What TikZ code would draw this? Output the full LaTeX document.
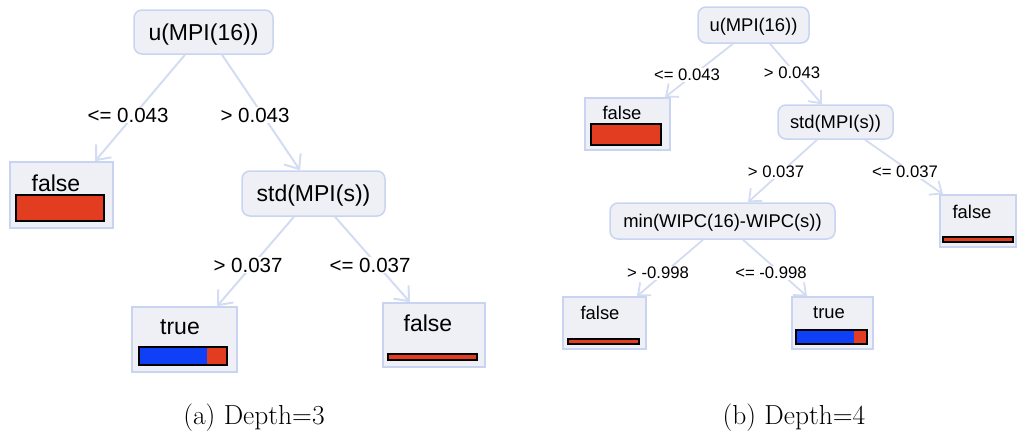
\documentclass[tikz,border=0pt]{standalone}
\usepackage{fontspec}
\newfontfamily\treefont{Liberation Sans}
\usetikzlibrary{arrows.meta}
\definecolor{edgeblue}{HTML}{D3DCF2}
\definecolor{nodefill}{HTML}{EEF0F6}
\definecolor{nodeline}{HTML}{C8D4F1}
\definecolor{barred}{HTML}{E33D21}
\definecolor{barblue}{HTML}{1040F5}
\begin{document}
\begin{tikzpicture}[x=1pt,y=-1pt,
  split/.style={draw=nodeline, fill=nodefill, line width=1.5pt, rounded corners=8pt,
    inner sep=0pt, text depth=0pt},
  leafbox/.style={draw=nodeline, fill=nodefill, line width=1.5pt, inner sep=0pt},
  bigfont/.style={font=\treefont\fontsize{23}{26}\selectfont},
  smallfont/.style={font=\treefont\fontsize{18.4}{21}\selectfont},
  biglabel/.style={fill=white, inner sep=1pt, font=\treefont\fontsize{20.5}{24}\selectfont},
  smalllabel/.style={fill=white, inner sep=1pt, font=\treefont\fontsize{16.7}{20}\selectfont},
  edge/.style={draw=edgeblue, line width=2pt,
    -{Straight Barb[length=12pt, width=20pt, line width=2pt]}},
  smalledge/.style={draw=edgeblue, line width=1.8pt,
    -{Straight Barb[length=10pt, width=17pt, line width=1.8pt]}},
  bar/.style={draw=black, line width=1.3pt},
  caption/.style={font=\fontsize{27.5}{31}\selectfont}
]
\useasboundingbox (0,0) rectangle (1018,434);

% ---------- (a) depth 3 ----------
\node[split, bigfont, minimum width=139pt, minimum height=44pt] (rA) at (203.5,32) {u(MPI(16))};
\node[leafbox, minimum width=103pt, minimum height=66pt] (fA1) at (61.5,195) {};
\node[split, bigfont, minimum width=143pt, minimum height=45pt] (sA) at (313.5,193.5) {std(MPI(s))};
\node[leafbox, minimum width=105pt, minimum height=65pt] (tA) at (184.5,339.5) {};
\node[leafbox, minimum width=102pt, minimum height=64pt] (fA2) at (434,335) {};

\node[bigfont] (fA1t) at (56,183) {false};
\draw[bar, fill=barred] (16,195) rectangle (104,221);

\node[bigfont] (tAt) at (180,327) {true};
\fill[barblue] (139,347) rectangle (207,365);
\fill[barred] (207,347) rectangle (227,365);
\draw[bar] (139,347) rectangle (227,365);

\node[bigfont] (fA2t) at (428,323) {false};
\draw[bar, fill=barred] (388,354) rectangle (477,360);

\draw[edge] ([xshift=-18.5pt]rA.south) -- ([xshift=33.5pt]fA1.north);
\draw[edge] ([xshift=18.5pt]rA.south) -- ([xshift=-13.5pt]sA.north);
\draw[edge] ([xshift=-19.5pt]sA.south) -- ([xshift=32.5pt]tA.north);
\draw[edge] ([xshift=21.5pt]sA.south) -- ([xshift=-24pt]fA2.north);

\node[biglabel] (lA1) at (128,115) {<= 0.043};
\node[biglabel] (lA2) at (255,115) {> 0.043};
\node[biglabel] (lA3) at (248,265) {> 0.037};
\node[biglabel] (lA4) at (370,265) {<= 0.037};

\node[caption] (capA) at (254,418) {(a) Depth=3};

% ---------- (b) depth 4 ----------
\node[split, smallfont, minimum width=111pt, minimum height=36pt] (rB) at (753.5,25) {u(MPI(16))};
\node[leafbox, minimum width=85pt, minimum height=52pt] (fB1) at (627.5,124) {};
\node[split, smallfont, minimum width=115pt, minimum height=34pt] (sB) at (835.5,122) {std(MPI(s))};
\node[split, smallfont, minimum width=225pt, minimum height=36pt] (mB) at (722.5,221) {min(WIPC(16)-WIPC(s))};
\node[leafbox, minimum width=76pt, minimum height=52pt] (fB2) at (978,221) {};
\node[leafbox, minimum width=83pt, minimum height=52pt] (fB3) at (604.5,323) {};
\node[leafbox, minimum width=81pt, minimum height=52pt] (tB) at (832.5,323) {};

\node[smallfont] (fB1t) at (622,113) {false};
\draw[bar, fill=barred] (591,124) rectangle (661,145);

\node[smallfont] (fB2t) at (972,212) {false};
\draw[bar, fill=barred] (943,237) rectangle (1013,242);

\node[smallfont] (fB3t) at (600,313) {false};
\draw[bar, fill=barred] (568,339) rectangle (639,344);

\node[smallfont] (tBt) at (829,313) {true};
\fill[barblue] (796,330) rectangle (854,344);
\fill[barred] (854,330) rectangle (867,344);
\draw[bar] (796,330) rectangle (867,344);

\draw[smalledge] ([xshift=-20.5pt]rB.south) -- ([xshift=37.5pt]fB1.north);
\draw[smalledge] ([xshift=16.5pt]rB.south) -- ([xshift=-13.5pt]sB.north);
\draw[smalledge] ([xshift=-18.5pt]sB.south) -- ([xshift=25.5pt]mB.north);
\draw[smalledge] ([xshift=29.5pt]sB.south) -- ([xshift=-35pt]fB2.north);
\draw[smalledge] ([xshift=-19.5pt]mB.south) -- ([xshift=32.5pt]fB3.north);
\draw[smalledge] ([xshift=20.5pt]mB.south) -- ([xshift=-25.5pt]tB.north);

\node[smalllabel] (lB1) at (687,75) {<= 0.043};
\node[smalllabel] (lB2) at (792,73) {> 0.043};
\node[smalllabel] (lB3) at (776,172) {> 0.037};
\node[smalllabel] (lB4) at (905,172) {<= 0.037};
\node[smalllabel] (lB5) at (658,273) {> -0.998};
\node[smalllabel] (lB6) at (771,273) {<= -0.998};

\node[caption] (capB) at (794,418) {(b) Depth=4};
\end{tikzpicture}
\end{document}
